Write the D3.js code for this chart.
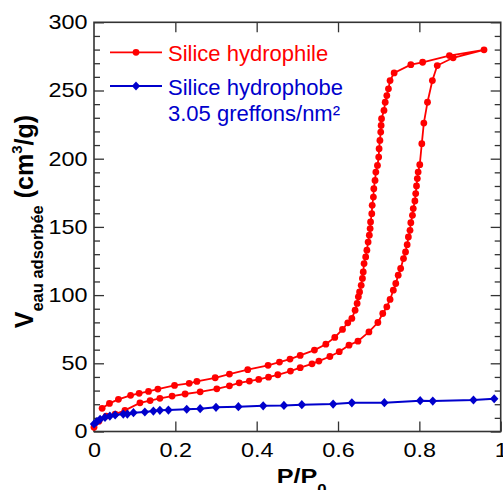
<!DOCTYPE html>
<html><head><meta charset="utf-8">
<script src="https://cdn.jsdelivr.net/npm/d3@7"></script>
<style>
html,body{margin:0;padding:0;background:#fff;}
svg{display:block;font-family:"Liberation Sans",Arial,sans-serif;}
</style></head>
<body>
<svg id="chart" width="503" height="490"></svg>
<script>
// ---- data ----
const adsP = [0.000,0.012,0.030,0.052,0.076,0.113,0.138,0.162,0.192,0.224,0.261,0.302,0.333,0.357,0.382,0.405,0.429,0.452,0.483,0.507,0.536,0.553,0.580,0.603,0.627,0.649,0.676,0.698,0.710,0.720,0.728,0.736,0.742,0.748,0.754,0.761,0.766,0.770,0.773,0.777,0.779,0.783,0.785,0.789,0.791,0.793,0.795,0.797,0.801,0.806,0.811,0.820,0.832,0.844,0.883,0.959];
const adsV = [3.1,7.5,11.3,12.8,15.5,21.0,22.7,24.3,26.0,27.5,29.1,31.3,33.5,35.7,37.0,38.2,39.8,41.6,44.3,46.8,49.6,51.6,55.0,58.5,63.3,66.2,73.0,79.9,86.5,91.4,96.8,103.6,108.5,114.6,119.5,126.8,131.6,137.0,142.6,147.5,153.1,158.5,163.4,169.0,174.4,180.0,185.4,190.2,195.6,211.0,226.1,241.4,257.3,268.3,274.0,279.8];
const desP = [0.959,0.874,0.808,0.779,0.738,0.728,0.724,0.720,0.716,0.713,0.707,0.706,0.705,0.703,0.701,0.700,0.697,0.693,0.691,0.688,0.687,0.684,0.683,0.680,0.679,0.677,0.674,0.671,0.668,0.664,0.662,0.660,0.657,0.653,0.650,0.647,0.642,0.634,0.624,0.611,0.592,0.570,0.542,0.507,0.482,0.456,0.428,0.378,0.333,0.298,0.253,0.234,0.198,0.157,0.134,0.111,0.090,0.060,0.038,0.020];
const desV = [279.8,275.6,270.7,268.9,262.9,257.3,251.2,246.3,241.4,235.4,229.3,224.4,219.5,213.4,207.3,201.2,195.1,190.2,184.1,178.0,171.9,165.8,159.7,153.6,148.8,143.9,138.9,132.9,128.0,123.1,117.0,112.2,107.2,102.3,98.7,93.9,88.9,82.9,79.7,74.8,69.0,64.0,59.7,55.8,53.1,50.9,48.5,45.3,42.1,39.4,36.7,35.3,33.8,31.1,29.4,28.0,26.5,23.6,20.6,17.0];
const phobP = [0,0.007,0.015,0.027,0.039,0.052,0.072,0.082,0.097,0.125,0.146,0.162,0.183,0.228,0.261,0.300,0.355,0.416,0.467,0.511,0.588,0.634,0.714,0.802,0.833,0.933,0.984];
const phobV = [5.5,7.2,8.9,10.4,11.3,12.1,12.8,12.8,13.8,14.3,15.0,15.5,15.7,16.3,16.7,17.7,18.2,18.8,19.1,19.7,20.1,21.0,21.1,22.6,22.3,23.1,24.0];
const xTicks = [0,0.2,0.4,0.6,0.8,1];
const yTicks = [0,50,100,150,200,250,300];
const yMinor = d3.range(0,301,10);
const legendLabels = ["Silice hydrophile","Silice hydrophobe","3.05 greffons/nm²"];

const RED = "#ff0000", BLUE = "#0000cc", AX = "#333";
const L = 94, R = 500.7, T = 22.3, B = 431.5;
const x = d3.scaleLinear().domain([0,1]).range([L,R]);
const y = d3.scaleLinear().domain([0,300]).range([B,T]);
const svg = d3.select("#chart");

function stretchTexts(sel, k){
  sel.selectAll("text").each(function(){
    const t = d3.select(this);
    const tx = +t.attr("x") || 0;
    t.attr("x",0).attr("transform",`translate(${tx},0) scale(${k},1)`);
  });
}
function styleAxis(g){
  g.select(".domain").remove();
  g.selectAll("line").attr("stroke",AX).attr("stroke-width",1.3);
  g.selectAll("text").attr("fill","#000").attr("font-size",20).attr("font-family","Liberation Sans, Arial, sans-serif");
}

// axes
const gL = svg.append("g").attr("transform",`translate(${L},0)`)
  .call(d3.axisLeft(y).tickValues(yTicks).tickSizeInner(-10).tickSizeOuter(0).tickPadding(6.5).tickFormat(d=>d));
styleAxis(gL); stretchTexts(gL,1.17);
const gLm = svg.append("g").attr("transform",`translate(${L},0)`)
  .call(d3.axisLeft(y).tickValues(yMinor.filter(v=>v%50)).tickSizeInner(-6).tickSizeOuter(0).tickFormat(""));
styleAxis(gLm);
const gR = svg.append("g").attr("transform",`translate(${R},0)`)
  .call(d3.axisRight(y).tickValues(yTicks).tickSizeInner(-10).tickSizeOuter(0).tickFormat(""));
styleAxis(gR);
const gRm = svg.append("g").attr("transform",`translate(${R},0)`)
  .call(d3.axisRight(y).tickValues(yMinor.filter(v=>v%50)).tickSizeInner(-6).tickSizeOuter(0).tickFormat(""));
styleAxis(gRm);
const gB = svg.append("g").attr("transform",`translate(0,${B})`)
  .call(d3.axisBottom(x).tickValues(xTicks).tickSizeInner(-10).tickSizeOuter(0).tickPadding(11).tickFormat(d=>d));
styleAxis(gB); stretchTexts(gB,1.17);
const gT = svg.append("g").attr("transform",`translate(0,${T})`)
  .call(d3.axisTop(x).tickValues(xTicks.slice(1,-1)).tickSizeInner(-10).tickSizeOuter(0).tickFormat(""));
styleAxis(gT);

svg.append("rect").attr("x",L).attr("y",T).attr("width",R-L).attr("height",B-T)
  .attr("fill","none").attr("stroke",AX).attr("stroke-width",1.6);

// red hysteresis loop
const red = adsP.map((p,i)=>[p,adsV[i]]).concat(desP.slice(1).map((p,i)=>[p,desV[i+1]]));
const line = d3.line().x(d=>x(d[0])).y(d=>y(d[1]));
svg.append("path").datum(red).attr("d",line).attr("fill","none").attr("stroke",RED).attr("stroke-width",1.8);
svg.append("g").selectAll("circle").data(red).join("circle")
  .attr("cx",d=>x(d[0])).attr("cy",d=>y(d[1])).attr("r",3.4).attr("fill",RED);

// blue
const blue = phobP.map((p,i)=>[p,phobV[i]]);
const diamond = (cx,cy)=>`M${cx},${cy-4.6}L${cx+4.2},${cy}L${cx},${cy+4.6}L${cx-4.2},${cy}Z`;
svg.append("path").datum(blue).attr("d",line).attr("fill","none").attr("stroke",BLUE).attr("stroke-width",2);
svg.append("g").selectAll("path").data(blue).join("path")
  .attr("d",d=>diamond(x(d[0]),y(d[1]))).attr("fill",BLUE);

// legend
const lg = svg.append("g");
lg.append("line").attr("x1",110).attr("x2",162).attr("y1",52.3).attr("y2",52.3).attr("stroke",RED).attr("stroke-width",1.8);
lg.append("circle").attr("cx",136).attr("cy",52.3).attr("r",3.4).attr("fill",RED);
lg.append("line").attr("x1",110).attr("x2",162).attr("y1",86).attr("y2",86).attr("stroke",BLUE).attr("stroke-width",2);
lg.append("path").attr("d",diamond(136,86)).attr("fill",BLUE);
lg.append("text").attr("x",168).attr("y",61).attr("font-size",22).attr("fill",RED).text(legendLabels[0]);
lg.append("text").attr("x",168).attr("y",95).attr("font-size",22).attr("fill",BLUE).text(legendLabels[1]);
lg.append("text").attr("x",168).attr("y",121).attr("font-size",22).attr("fill",BLUE).text(legendLabels[2]);

// x title
const xt = svg.append("g").attr("transform","translate(276.7,483.3) scale(1.2,1)")
  .append("text").attr("font-weight","bold").attr("font-size",21).attr("fill","#000");
xt.append("tspan").text("P/P");
xt.append("tspan").attr("font-size",14).attr("dy",11).text("0");

// y title
const yt = svg.append("text").attr("transform","translate(33.3,328.3) rotate(-90)")
  .attr("font-weight","bold").attr("font-size",25).attr("fill","#000");
yt.append("tspan").text("V");
yt.append("tspan").attr("font-size",16.5).attr("dy",10).text("eau adsorbée");
yt.append("tspan").attr("dy",-10).text(" (cm");
yt.append("tspan").attr("font-size",15).attr("dy",-11).text("3");
yt.append("tspan").attr("dy",11).text("/g)");
</script>
</body></html>
